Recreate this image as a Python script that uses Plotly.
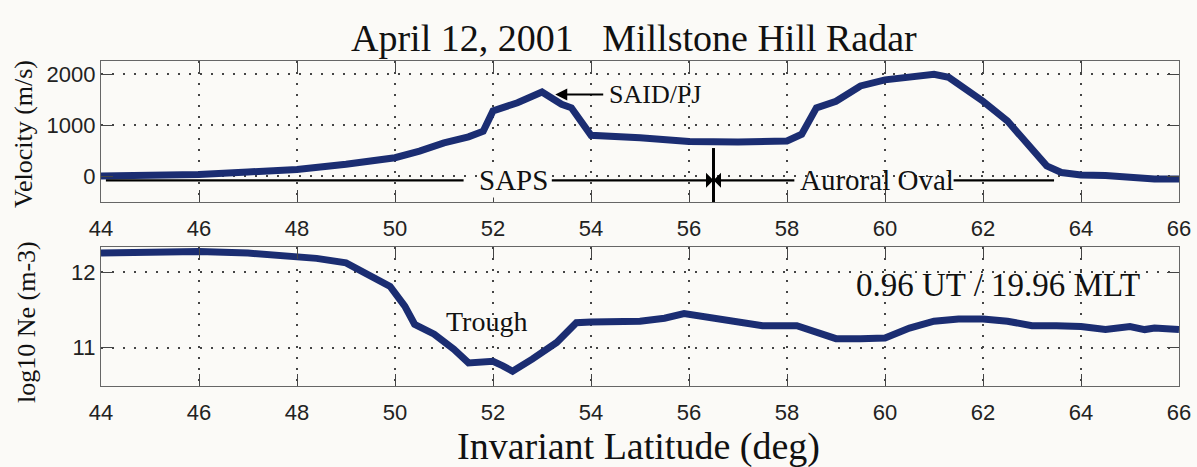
import plotly.graph_objects as go

# ---- data ----
vel_lat = [44.0, 45.0, 46.0, 47.0, 48.0, 49.0, 49.5, 50.0, 50.5, 51.0, 51.5, 51.8, 52.0,
           52.5, 53.0, 53.4, 53.6, 54.0, 55.0, 56.0, 57.0, 58.0, 58.3, 58.6, 59.0, 59.5,
           60.0, 60.5, 61.0, 61.3, 62.0, 62.5, 63.0, 63.3, 63.6, 64.0, 64.5, 65.0, 65.5, 66.0]
vel_ms = [0, 10, 30, 80, 130, 230, 280, 360, 490, 650, 770, 880, 1280,
          1440, 1650, 1410, 1340, 800, 750, 680, 670, 690, 820, 1340, 1470, 1770,
          1890, 1940, 2000, 1940, 1470, 1080, 530, 200, 70, 20, 10, -30, -60, -60]

ne_lat = [44.0, 45.0, 46.0, 47.0, 48.0, 48.4, 49.0, 49.5, 49.9, 50.2, 50.4, 50.8, 51.2,
          51.5, 52.0, 52.2, 52.4, 52.8, 53.3, 53.7, 54.0, 55.0, 55.5, 55.9, 56.5, 57.0,
          57.5, 58.2, 58.6, 59.0, 59.5, 60.0, 60.5, 61.0, 61.5, 62.0, 62.5, 63.0, 63.5,
          64.0, 64.5, 65.0, 65.3, 65.5, 66.0]
ne_log10 = [12.25, 12.26, 12.27, 12.25, 12.21, 12.18, 12.12, 11.96, 11.81, 11.55, 11.31, 11.18, 10.98,
            10.80, 10.82, 10.76, 10.69, 10.85, 11.07, 11.33, 11.34, 11.35, 11.39, 11.45, 11.39, 11.35,
            11.29, 11.29, 11.20, 11.12, 11.12, 11.13, 11.26, 11.35, 11.38, 11.38, 11.35, 11.29, 11.29,
            11.28, 11.24, 11.28, 11.24, 11.26, 11.24]

x_ticks = [44, 46, 48, 50, 52, 54, 56, 58, 60, 62, 64, 66]
vel_ticks = [0, 1000, 2000]
ne_ticks = [11, 12]

boundary_lat = 56.5          # SAPS / auroral oval boundary
boundary_top = 550
region_level = -85
saps_segments = [(44.1, 51.4), (53.2, 56.45)]
oval_segments = [(56.55, 58.15), (61.4, 63.45)]
saps_label = (52.42, "SAPS")
oval_label = (59.84, "Auroral Oval")
said_tip = (53.27, 1600)
said_label = (54.33, "SAID/PJ")
trough_label = (51.86, 11.34, "Trough")
time_label = (62.3, 11.83, "0.96 UT / 19.96 MLT")

TITLE = "April 12, 2001   Millstone Hill Radar"
XTITLE = "Invariant Latitude (deg)"

# ---- figure ----
W, H = 1197, 467
LINE = "#1b2d72"
BG = "#fbfaf7"
SERIF = "Liberation Serif, Times New Roman, serif"
SANS = "Liberation Sans, Arial, sans-serif"

fig = go.Figure()
fig.add_trace(go.Scatter(x=vel_lat, y=vel_ms, mode="lines",
                         line=dict(color=LINE, width=7), xaxis="x", yaxis="y",
                         showlegend=False, hoverinfo="skip"))
fig.add_trace(go.Scatter(x=ne_lat, y=ne_log10, mode="lines",
                         line=dict(color=LINE, width=7), xaxis="x2", yaxis="y2",
                         showlegend=False, hoverinfo="skip"))
fig.add_trace(go.Scatter(x=[boundary_lat], y=[region_level], mode="markers",
                         marker=dict(symbol="bowtie", size=15, color="black"),
                         xaxis="x", yaxis="y", showlegend=False, hoverinfo="skip"))

xd = [101 / W, 1179 / W]
yd_top = [1 - 202 / H, 1 - 61 / H]
yd_bot = [1 - 386 / H, 1 - 247 / H]

common_x = dict(range=[44, 66], tickvals=x_ticks, ticks="inside", ticklen=12, tickwidth=1.3,
                tickcolor="#444", showline=True, linecolor="#666", linewidth=1.3, mirror="ticks",
                showgrid=True, gridcolor="#444", griddash="2px,9px", gridwidth=1.6, zeroline=False,
                tickfont=dict(family=SANS, size=22, color="#222"), domain=xd, automargin=False,
                ticklabelstandoff=6)
common_y = dict(ticks="inside", ticklen=12, tickwidth=1.3, tickcolor="#444", showline=True,
                linecolor="#666", linewidth=1.3, mirror="ticks", showgrid=True, gridcolor="#444",
                griddash="2px,9px", gridwidth=1.6, zeroline=False, automargin=False,
                tickfont=dict(family=SANS, size=22, color="#222"))

fig.update_layout(
    width=W, height=H, autosize=False,
    margin=dict(l=0, r=0, t=0, b=0, autoexpand=False),
    paper_bgcolor=BG, plot_bgcolor=BG,
    xaxis=dict(**common_x, anchor="y"),
    yaxis=dict(**common_y, range=[-510, 2260], tickvals=vel_ticks, domain=yd_top, anchor="x"),
    xaxis2=dict(**common_x, anchor="y2"),
    yaxis2=dict(**common_y, range=[10.495, 12.33], tickvals=ne_ticks, domain=yd_bot, anchor="x2"),
)

shapes = []
for a, b in saps_segments + oval_segments:
    shapes.append(dict(type="line", xref="x", yref="y", x0=a, x1=b, y0=region_level, y1=region_level,
                       line=dict(color="black", width=2.2)))
shapes.append(dict(type="line", xref="x", yref="y", x0=boundary_lat, x1=boundary_lat,
                   y0=boundary_top, y1=-510, line=dict(color="black", width=3)))
fig.update_layout(shapes=shapes)

ann = []
ann.append(dict(text=TITLE, xref="paper", yref="paper", x=634 / W, y=1 - 38 / H, showarrow=False,
                font=dict(family=SERIF, size=38, color="#111"), xanchor="center", yanchor="middle"))
ann.append(dict(text=XTITLE, xref="paper", yref="paper", x=638 / W, y=1 - 446 / H, showarrow=False,
                font=dict(family=SERIF, size=38, color="#111"), xanchor="center", yanchor="middle"))
ann.append(dict(text="Velocity (m/s)", xref="paper", yref="paper", x=24 / W, y=1 - 134 / H,
                showarrow=False, textangle=-90, font=dict(family=SERIF, size=26, color="#111"),
                xanchor="center", yanchor="middle"))
ann.append(dict(text="log10 Ne (m-3)", xref="paper", yref="paper", x=26 / W, y=1 - 322 / H,
                showarrow=False, textangle=-90, font=dict(family=SERIF, size=26, color="#111"),
                xanchor="center", yanchor="middle"))
ann.append(dict(text=saps_label[1], xref="x", yref="y", x=saps_label[0], y=region_level,
                showarrow=False, font=dict(family=SERIF, size=29, color="#111"),
                xanchor="center", yanchor="middle", bgcolor=BG))
ann.append(dict(text=oval_label[1], xref="x", yref="y", x=oval_label[0], y=region_level,
                showarrow=False, font=dict(family=SERIF, size=29, color="#111"),
                xanchor="center", yanchor="middle"))
ann.append(dict(text=said_label[1], xref="x", yref="y", x=said_label[0], y=said_tip[1],
                showarrow=False, font=dict(family=SERIF, size=26, color="#111"),
                xanchor="left", yanchor="middle"))
ann.append(dict(text="", xref="x", yref="y", x=said_tip[0], y=said_tip[1],
                ax=said_label[0] - 0.05, ay=said_tip[1], axref="x", ayref="y",
                showarrow=True, arrowhead=2, arrowsize=1.2, arrowwidth=2, arrowcolor="black"))
ann.append(dict(text=trough_label[2], xref="x2", yref="y2", x=trough_label[0], y=trough_label[1],
                showarrow=False, font=dict(family=SERIF, size=28, color="#111"),
                xanchor="center", yanchor="middle"))
ann.append(dict(text=time_label[2], xref="x2", yref="y2", x=time_label[0], y=time_label[1],
                showarrow=False, font=dict(family=SERIF, size=33, color="#111"),
                xanchor="center", yanchor="middle"))
fig.update_layout(annotations=ann)

fig.write_html("out.html", config={"displayModeBar": False},
               post_script="document.body.style.margin='0';document.body.style.overflow='hidden';")
